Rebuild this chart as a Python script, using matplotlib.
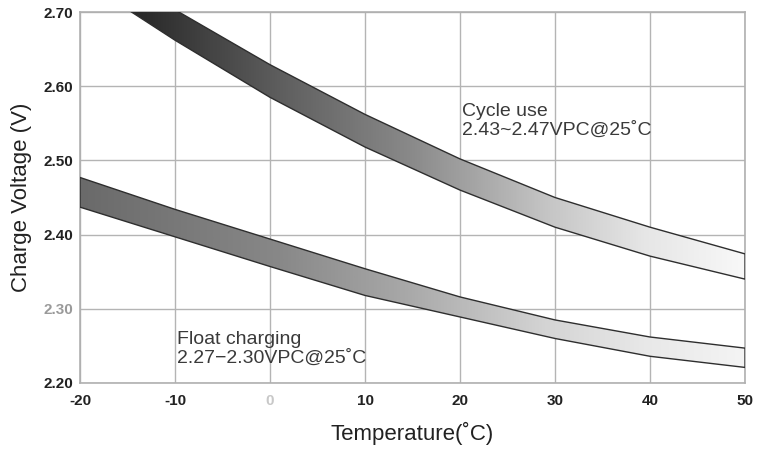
import numpy as np
import matplotlib
matplotlib.use("Agg")
import matplotlib.pyplot as plt
from matplotlib.colors import LinearSegmentedColormap

# ---- data ----
temps = [-20, -10, 0, 10, 20, 30, 40, 50]
cycle_upper = [2.785, 2.703, 2.629, 2.562, 2.502, 2.450, 2.410, 2.374]
cycle_lower = [2.745, 2.662, 2.585, 2.518, 2.460, 2.410, 2.371, 2.340]
float_upper = [2.477, 2.434, 2.394, 2.354, 2.316, 2.285, 2.262, 2.247]
float_lower = [2.437, 2.397, 2.357, 2.318, 2.289, 2.260, 2.236, 2.221]

x_ticks = [-20, -10, 0, 10, 20, 30, 40, 50]
y_ticks = [2.20, 2.30, 2.40, 2.50, 2.60, 2.70]
cycle_label = "Cycle use\n2.43~2.47VPC@25˚C"
float_label = "Float charging\n2.27\u22122.30VPC@25˚C"
x_title = "Temperature(˚C)"
y_title = "Charge Voltage (V)"

FONT = ['Liberation Sans', 'DejaVu Sans']
plt.rcParams['font.family'] = FONT

fig = plt.figure(figsize=(7.68, 4.54), dpi=100)
ax = fig.add_axes([80 / 768, 1 - 383 / 454, 665 / 768, 371 / 454])

xmin, xmax = -20, 50
ymin, ymax = 2.20, 2.70
ax.set_xlim(xmin, xmax)
ax.set_ylim(ymin, ymax)

ax.set_xticks(x_ticks)
ax.set_yticks(y_ticks)
ax.set_xticklabels([str(t) for t in x_ticks])
ax.set_yticklabels([f"{v:.2f}" for v in y_ticks])
ax.grid(True, color='#b4b4b4', lw=1.0)
ax.set_axisbelow(True)
for s in ax.spines.values():
    s.set_color('#b0b0b0')
    s.set_linewidth(1.2)
ax.tick_params(length=0, labelsize=11, pad=5, labelcolor='#222222')
for lab in ax.get_xticklabels() + ax.get_yticklabels():
    lab.set_fontweight('bold')
ax.get_xticklabels()[2].set_color('#c8c8c8')
ax.get_yticklabels()[1].set_color('#9a9a9a')
ax.tick_params(axis='x', pad=8)

# gradient bands
def gradient_band(lower, upper, stops):
    poly = ax.fill_between(temps, lower, upper, facecolor='none',
                           edgecolor='#2e2e2e', lw=1.0, zorder=4)
    cmap = LinearSegmentedColormap.from_list('g', stops)
    grad = np.linspace(0, 1, 512).reshape(1, -1)
    im = ax.imshow(grad, extent=[xmin, xmax, ymin, ymax], aspect='auto',
                   cmap=cmap, origin='lower', zorder=3, interpolation='bilinear')
    im.set_clip_path(poly.get_paths()[0], ax.transData)
    return im

gradient_band(cycle_lower, cycle_upper,
              [(0.0, '#1e1e1e'), (0.1, '#2c2c2c'), (0.3, '#5e5e5e'),
               (0.5, '#8a8a8a'), (0.7, '#c4c4c4'), (0.85, '#e6e6e6'), (1.0, '#f8f8f8')])
gradient_band(float_lower, float_upper,
              [(0.0, '#6a6a6a'), (0.3, '#888888'), (0.5, '#aaaaaa'),
               (0.7, '#d4d4d4'), (0.85, '#e8e8e8'), (1.0, '#f4f4f4')])
ax.set_xlim(xmin, xmax)
ax.set_ylim(ymin, ymax)

ax.text(20.2, 2.578, cycle_label, va='top', ha='left', fontsize=14,
        color='#3a3a3a', linespacing=1.15, zorder=5)
ax.text(-9.8, 2.270, float_label, va='top', ha='left', fontsize=14,
        color='#3a3a3a', linespacing=1.15, zorder=5)

ax.set_xlabel(x_title, fontsize=16, color='#222222', labelpad=10)
ax.set_ylabel(y_title, fontsize=16, color='#222222', labelpad=8)

fig.savefig("out.png", dpi=100)
